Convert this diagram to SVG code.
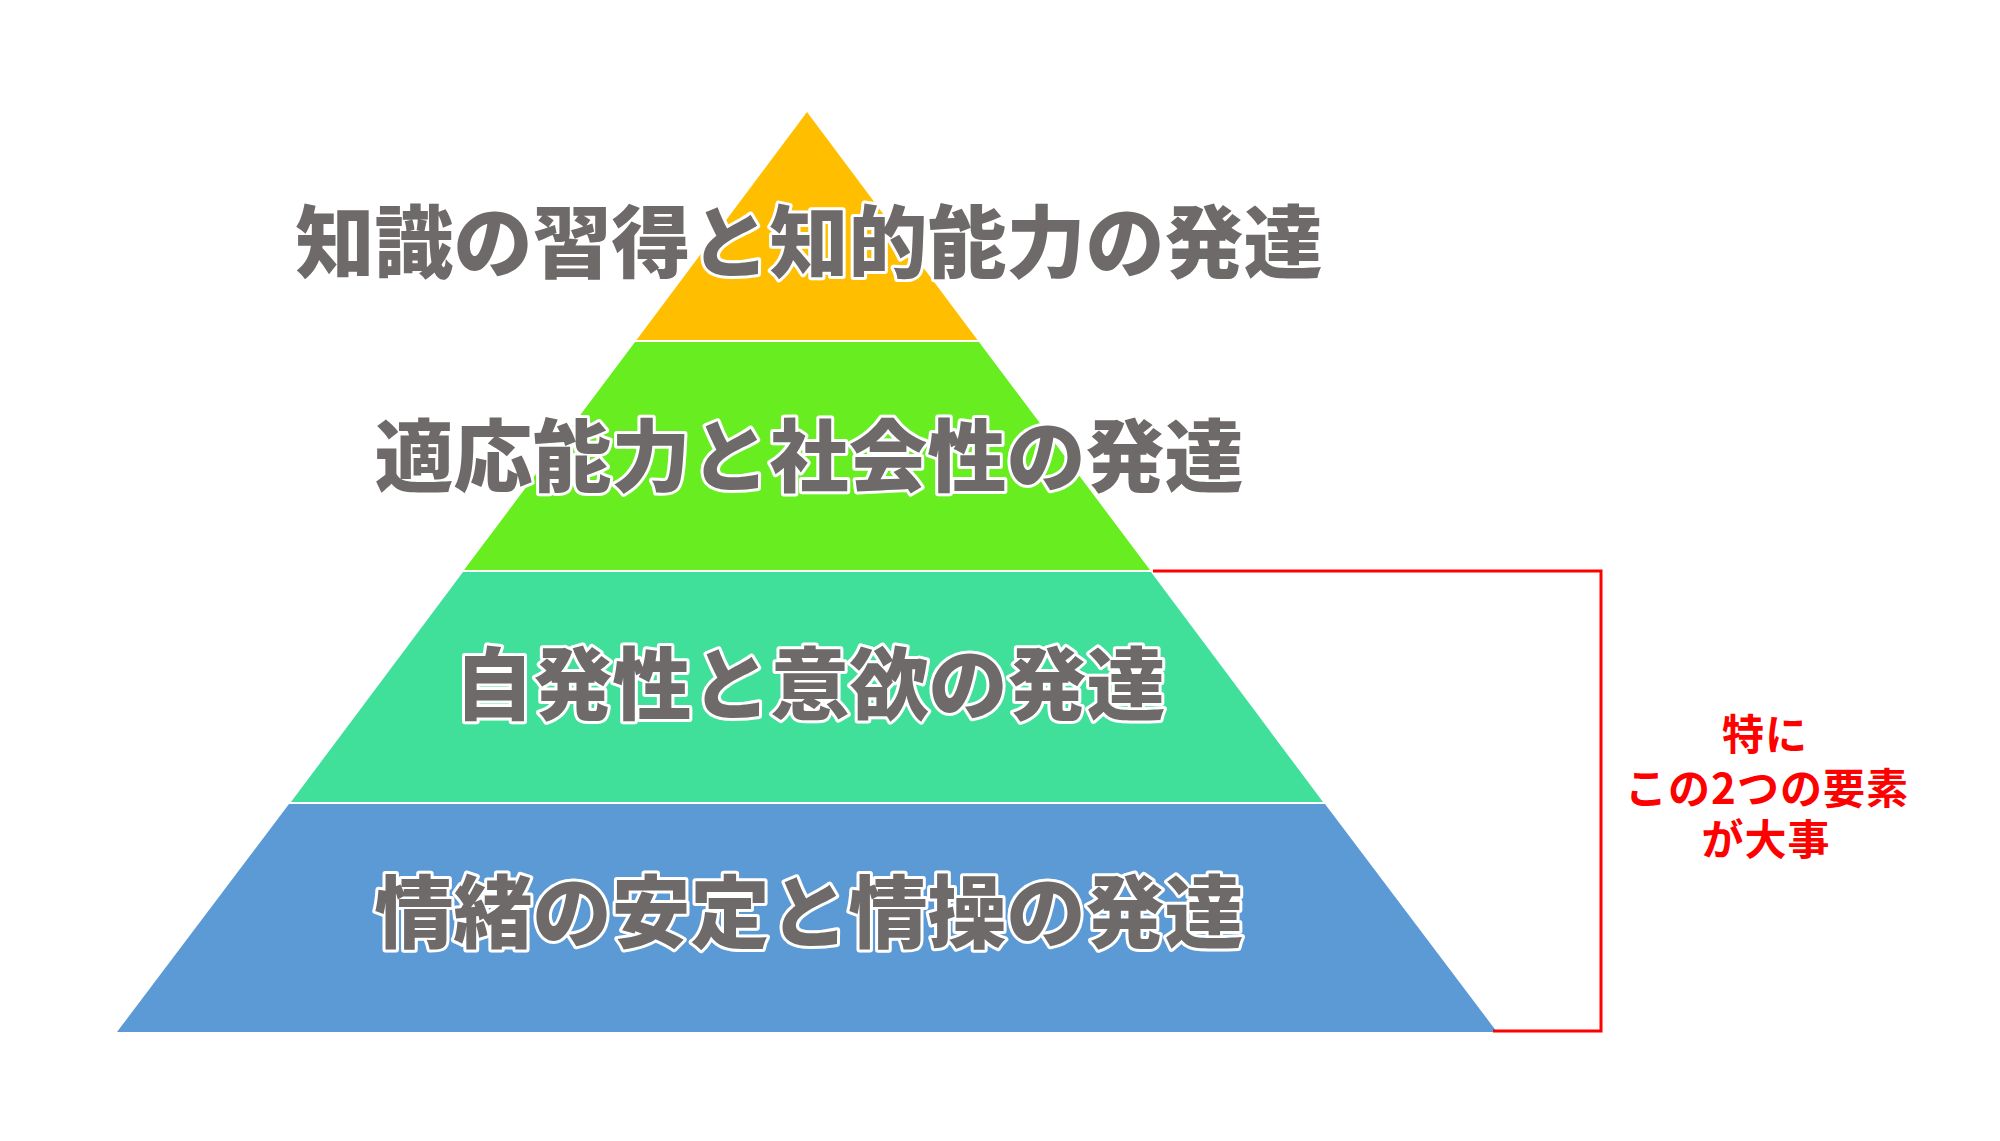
<svg xmlns="http://www.w3.org/2000/svg" width="2000" height="1141" viewBox="0 0 2000 1141">
  <style>
    .lbl { font-family: "Noto Sans CJK JP", "Noto Sans CJK SC", sans-serif; font-weight: 900; font-size: 79px; fill: #6e6a6a; stroke: #ffffff; stroke-width: 6px; stroke-linejoin: round; paint-order: stroke fill; text-anchor: middle; }
    .note { font-family: "Noto Sans CJK JP", "Noto Sans CJK SC", sans-serif; font-weight: 700; font-size: 42px; fill: #ff0000; text-anchor: middle; letter-spacing: 1px; }
    .bracket { fill: none; stroke: #ff0000; stroke-width: 3; }
  </style>
  <rect width="2000" height="1141" fill="#ffffff"/>
  <g id="level1">
    <polygon points="807,112 977.5,340 636.5,340" fill="#ffbe00"/>
    <text class="lbl" x="809" y="272">知識の習得と知的能力の発達</text>
  </g>
  <g id="level2">
    <polygon points="635,342 979,342 1150,570 464,570" fill="#68ee20"/>
    <text class="lbl" x="809" y="486">適応能力と社会性の発達</text>
  </g>
  <g id="level3">
    <polygon points="463,572 1151,572 1323,802 291,802" fill="#40e09a"/>
    <text class="lbl" x="810" y="714">自発性と意欲の発達</text>
  </g>
  <g id="level4">
    <polygon points="289,804 1325,804 1497,1032 117,1032" fill="#5b9ad5"/>
    <text class="lbl" x="809" y="942">情緒の安定と情操の発達</text>
  </g>
  <g id="connectors">
    <polyline class="bracket" points="1153,571 1601,571 1601,1031 1493,1031"/>
  </g>
  <g id="note">
    <text class="note"><tspan x="1765" y="750">特に</tspan><tspan x="1767" y="804">この2つの要素</tspan><tspan x="1766" y="855">が大事</tspan></text>
  </g>
</svg>
